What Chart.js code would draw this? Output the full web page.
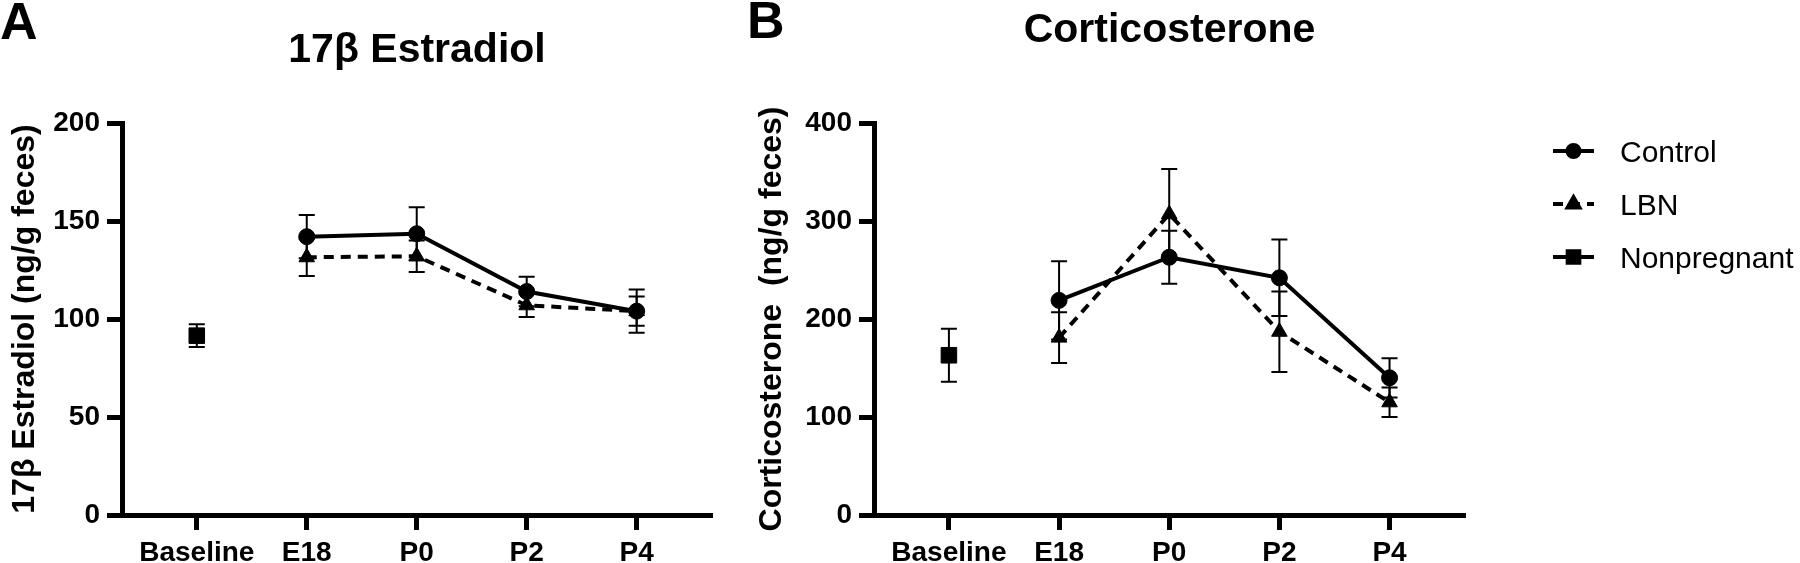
<!DOCTYPE html>
<html>
<head>
<meta charset="utf-8">
<script src="https://cdn.jsdelivr.net/npm/chart.js@4.4.1/dist/chart.umd.min.js"></script>
<style>
  html, body { margin: 0; padding: 0; background: #fff; }
  body { width: 1800px; height: 563px; position: relative; overflow: hidden; }
  canvas { position: absolute; top: 0; }
  #chartA { left: 0; }
  #chartB { left: 740px; }
</style>
</head>
<body>
<canvas id="chartA" width="740" height="563"></canvas>
<canvas id="chartB" width="1060" height="563"></canvas>
<script>
// time points on the x axis
const timePoints = ['Baseline', 'E18', 'P0', 'P2', 'P4']

// panel A - 17β Estradiol (ng/g feces), mean and error
const estradiolControl = [null, 142, 143.5, 114, 104]
const estradiolControlErr = [null, 11, 13.5, 7.5, 11]
const estradiolLBN = [null, 131.5, 132, 107, 104]
const estradiolLBNErr = [null, 9.5, 8, 6, 7.5]
const estradiolNonpregnant = [91.5, null, null, null, null]
const estradiolNonpregnantErr = [5.8, null, null, null, null]
const estradiolTicks = [0, 50, 100, 150, 200]

// panel B - Corticosterone (ng/g feces), mean and error
const corticoControl = [null, 219, 263, 242, 140]
const corticoControlErr = [null, 40, 27, 39, 20]
const corticoLBN = [null, 181, 307, 187, 115]
const corticoLBNErr = [null, 26, 46, 41, 15]
const corticoNonpregnant = [163, null, null, null, null]
const corticoNonpregnantErr = [27, null, null, null, null]
const corticoTicks = [0, 100, 200, 300, 400]

const seriesNames = ['Control', 'LBN', 'Nonpregnant']

const FONT = '"Liberation Sans", Arial, Helvetica, sans-serif'
Chart.defaults.font.family = FONT
Chart.defaults.color = '#000'

function toPoints(values) {
    return values.map((v, i) => ({x: i, y: v}))
}

function makeDatasets(control, controlErr, lbn, lbnErr, nonpreg, nonpregErr) {
    return [
        {
            label: seriesNames[0],
            data: toPoints(control),
            errors: controlErr,
            borderColor: '#000',
            backgroundColor: '#000',
            borderWidth: 4,
            pointStyle: 'circle',
            pointRadius: 8,
            pointBorderWidth: 1,
            tension: 0,
        },
        {
            label: seriesNames[1],
            data: toPoints(lbn),
            errors: lbnErr,
            borderColor: '#000',
            backgroundColor: '#000',
            borderWidth: 4,
            borderDash: [10, 7],
            pointStyle: 'triangle',
            pointRadius: 9,
            pointBorderWidth: 1,
            tension: 0,
        },
        {
            label: seriesNames[2],
            data: toPoints(nonpreg),
            errors: nonpregErr,
            borderColor: '#000',
            backgroundColor: '#000',
            borderWidth: 4,
            showLine: false,
            pointStyle: 'rect',
            pointRadius: 11,
            pointBorderWidth: 1,
        }
    ]
}

// error bars drawn under the markers
const errorBars = {
    id: 'errorBars',
    beforeDatasetsDraw: function (chart) {
        const ctx = chart.ctx
        const xs = chart.scales.x
        const ys = chart.scales.y
        ctx.save()
        ctx.strokeStyle = '#000'
        ctx.lineWidth = 2
        ctx.setLineDash([])
        chart.data.datasets.forEach(ds => {
            ds.data.forEach((p, i) => {
                const e = ds.errors[i]
                if (p.y === null || e === null) return
                const x = xs.getPixelForValue(p.x)
                const y1 = ys.getPixelForValue(p.y + e)
                const y2 = ys.getPixelForValue(p.y - e)
                ctx.beginPath()
                ctx.moveTo(x, y1)
                ctx.lineTo(x, y2)
                ctx.moveTo(x - 8, y1)
                ctx.lineTo(x + 8, y1)
                ctx.moveTo(x - 8, y2)
                ctx.lineTo(x + 8, y2)
                ctx.stroke()
            })
        })
        ctx.restore()
    }
}

// panel letter and title
const panelText = {
    id: 'panelText',
    afterDraw: function (chart, args, opts) {
        const ctx = chart.ctx
        const area = chart.chartArea
        ctx.save()
        ctx.fillStyle = '#000'
        ctx.textBaseline = 'alphabetic'
        ctx.textAlign = 'left'
        ctx.font = 'bold 52px ' + FONT
        ctx.fillText(opts.letter, opts.letterX, opts.letterY)
        ctx.textAlign = 'center'
        ctx.font = 'bold 41px ' + FONT
        ctx.fillText(opts.title, (area.left + area.right) / 2, opts.titleY)
        ctx.restore()
    }
}

// legend with line + marker samples
const sideLegend = {
    id: 'sideLegend',
    afterDraw: function (chart, args, opts) {
        if (!opts.show) return
        const ctx = chart.ctx
        ctx.save()
        chart.data.datasets.forEach((ds, i) => {
            const y = opts.y + i * opts.step
            ctx.strokeStyle = '#000'
            ctx.fillStyle = '#000'
            ctx.lineWidth = 4
            ctx.setLineDash(ds.borderDash || [])
            ctx.beginPath()
            ctx.moveTo(opts.x, y)
            ctx.lineTo(opts.x + 41, y)
            ctx.stroke()
            ctx.setLineDash([])
            Chart.helpers.drawPoint(ctx, {
                pointStyle: ds.pointStyle,
                radius: ds.pointRadius * 0.75,
                rotation: 0,
                borderWidth: 1
            }, opts.x + 20.5, y)
            ctx.font = '30px ' + FONT
            ctx.textAlign = 'left'
            ctx.textBaseline = 'alphabetic'
            ctx.fillText(ds.label, opts.x + 67, y + 11)
        })
        ctx.restore()
    }
}

function makeChart(el, datasets, yMax, yTicks, yTitle, yWidth, yTitlePad, rightPad, textOpts, legendOpts) {
    return new Chart(el, {
        type: 'line',
        data: {datasets: datasets},
        plugins: [errorBars, panelText, sideLegend],
        options: {
            responsive: false,
            animation: false,
            devicePixelRatio: 1,
            layout: {padding: {top: 123, right: rightPad, bottom: 0, left: 0}},
            plugins: {
                legend: {display: false},
                tooltip: {enabled: false},
                panelText: textOpts,
                sideLegend: legendOpts
            },
            scales: {
                x: {
                    type: 'linear',
                    min: -0.68,
                    max: 4.685,
                    afterBuildTicks: s => { s.ticks = timePoints.map((t, i) => ({value: i})) },
                    afterFit: s => { s.height = 48 },
                    ticks: {
                        callback: v => timePoints[v],
                        font: {size: 28, weight: 'bold'},
                        color: '#000',
                        padding: 6,
                        maxRotation: 0,
                        autoSkip: false
                    },
                    grid: {drawOnChartArea: false, tickLength: 15, tickWidth: 5, tickColor: '#000'},
                    border: {color: '#000', width: 5}
                },
                y: {
                    min: 0,
                    max: yMax,
                    afterBuildTicks: s => { s.ticks = yTicks.map(v => ({value: v})) },
                    afterFit: s => { s.width = yWidth },
                    ticks: {
                        font: {size: 28, weight: 'bold'},
                        color: '#000',
                        padding: 7
                    },
                    grid: {drawOnChartArea: false, tickLength: 15, tickWidth: 5, tickColor: '#000'},
                    border: {color: '#000', width: 5},
                    title: {
                        display: true,
                        text: yTitle,
                        color: '#000',
                        font: {size: 32, weight: 'bold'},
                        padding: {top: yTitlePad, bottom: 0}
                    }
                }
            }
        }
    })
}

makeChart(
    document.getElementById('chartA'),
    makeDatasets(estradiolControl, estradiolControlErr, estradiolLBN, estradiolLBNErr, estradiolNonpregnant, estradiolNonpregnantErr),
    200, estradiolTicks, '17β Estradiol (ng/g feces)', 122, 6, 28,
    {letter: 'A', letterX: 0, letterY: 39, title: '17β Estradiol', titleY: 62},
    {show: false}
)

makeChart(
    document.getElementById('chartB'),
    makeDatasets(corticoControl, corticoControlErr, corticoLBN, corticoLBNErr, corticoNonpregnant, corticoNonpregnantErr),
    400, corticoTicks, 'Corticosterone  (ng/g feces)', 134, 13, 335,
    {letter: 'B', letterX: 7, letterY: 38, title: 'Corticosterone', titleY: 42},
    {show: true, x: 813, y: 151, step: 53}
)
</script>
</body>
</html>
